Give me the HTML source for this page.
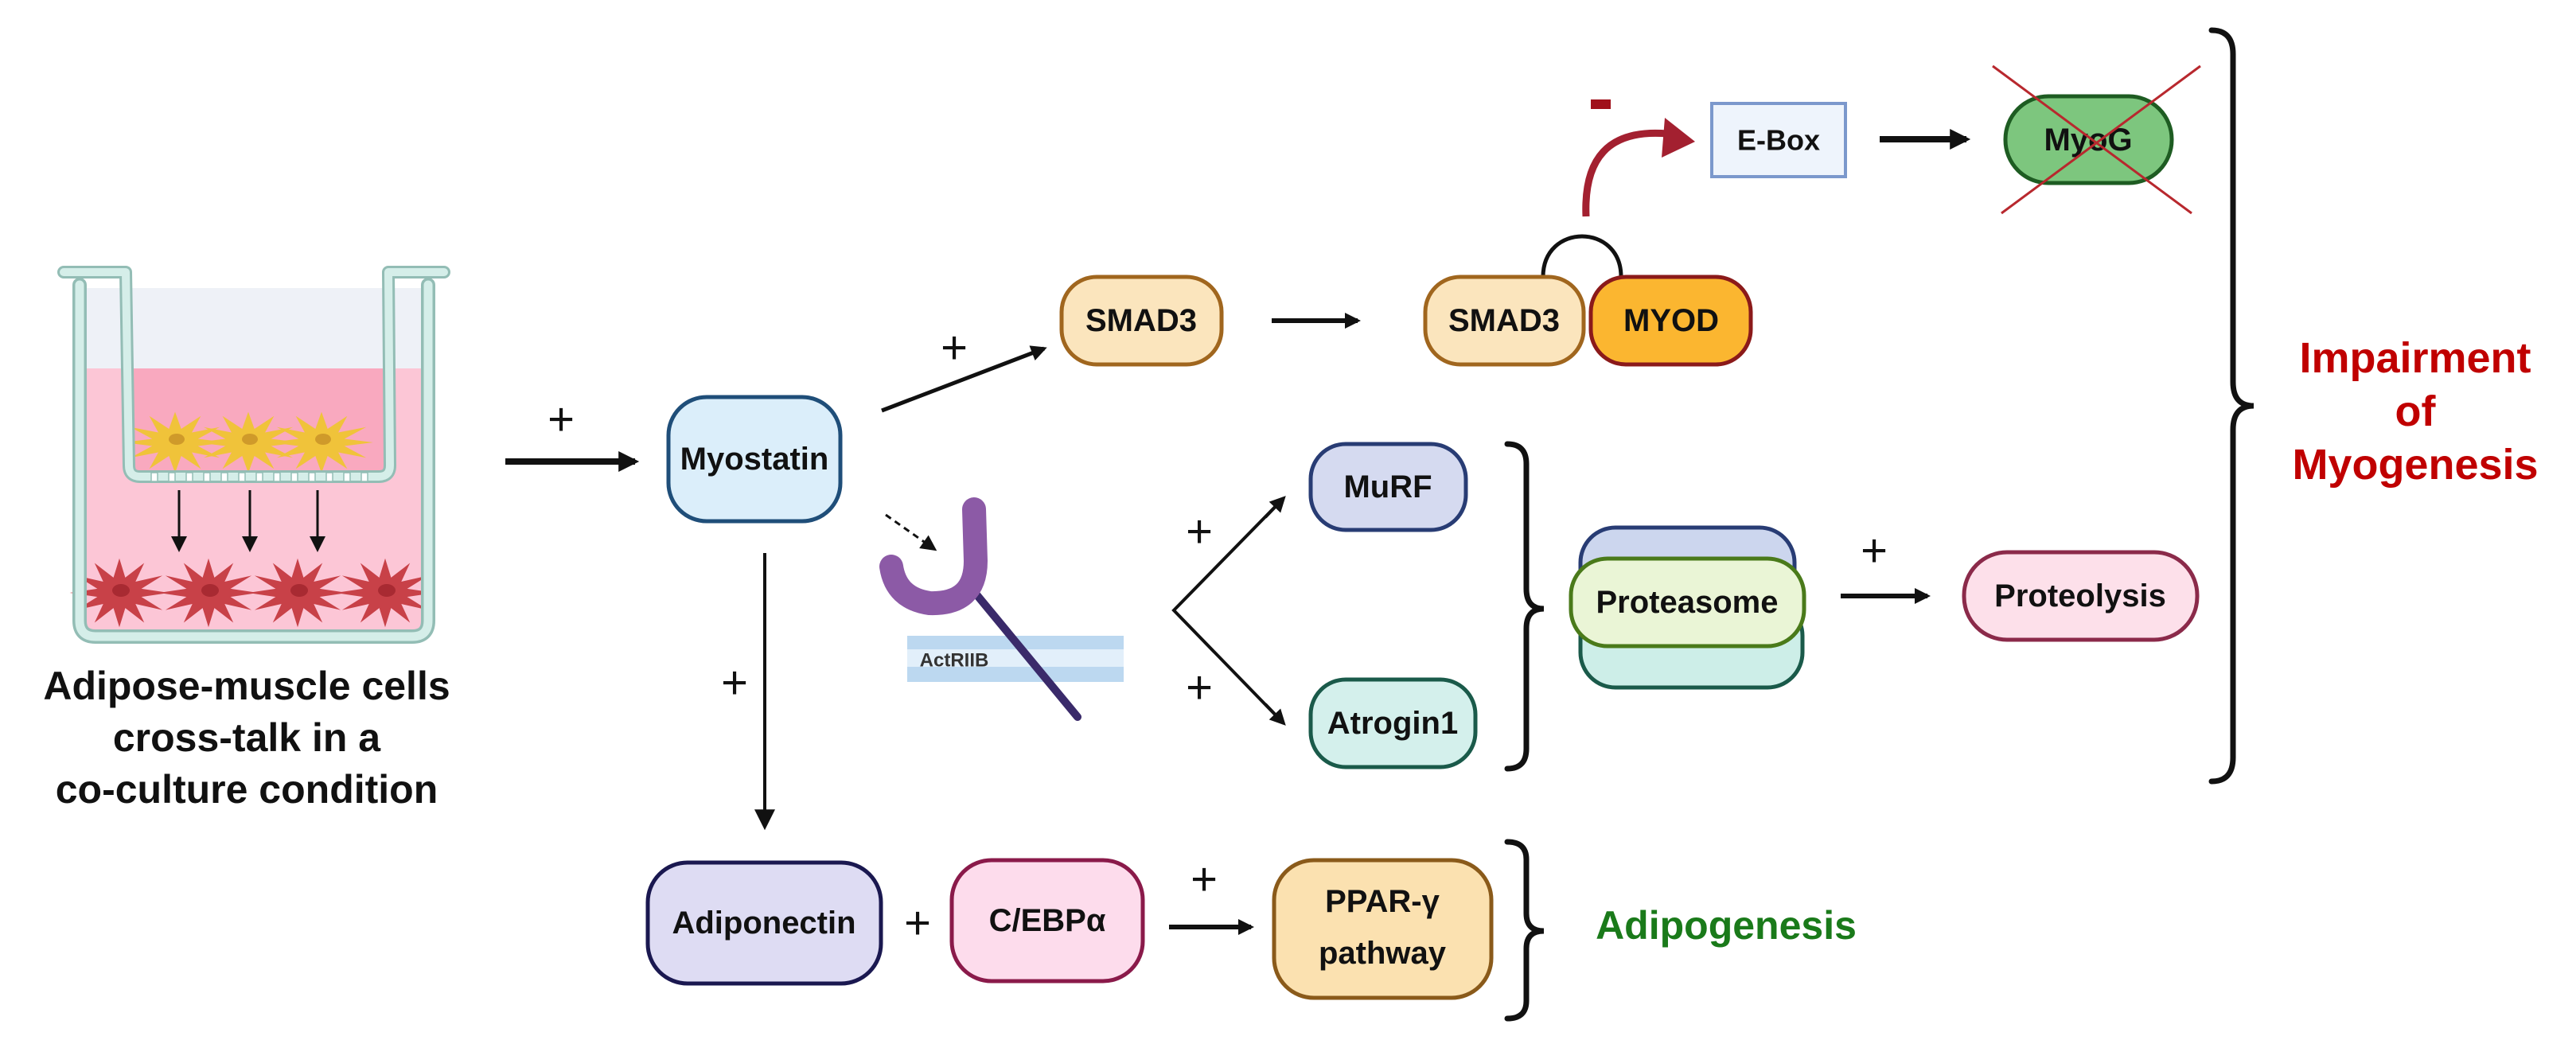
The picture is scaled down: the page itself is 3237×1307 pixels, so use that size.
<!DOCTYPE html>
<html><head><meta charset="utf-8"><style>
html,body{margin:0;padding:0;background:#fff;}
svg{display:block;}
.t{font-family:"Liberation Sans",sans-serif;font-weight:bold;font-size:40px;fill:#111;text-anchor:middle;dominant-baseline:central;}
.p{font-family:"Liberation Sans",sans-serif;font-size:58px;fill:#111;text-anchor:middle;dominant-baseline:central;}
</style></head><body>
<svg width="3237" height="1307" viewBox="0 0 3237 1307" xmlns="http://www.w3.org/2000/svg">
<defs>
<marker id="a" viewBox="0 0 10 10" refX="8" refY="5" markerWidth="30" markerHeight="26" markerUnits="userSpaceOnUse" orient="auto"><path d="M0,0 L10,5 L0,10 z" fill="#111"/></marker>
<marker id="as" viewBox="0 0 10 10" refX="8" refY="5" markerWidth="22" markerHeight="20" markerUnits="userSpaceOnUse" orient="auto"><path d="M0,0 L10,5 L0,10 z" fill="#111"/></marker>
<polygon id="star" points="48,0 21.3,5.7 41.6,24 15.6,15.6 24,41.6 5.7,21.3 0,48 -5.7,21.3 -24,41.6 -15.6,15.6 -41.6,24 -21.3,5.7 -48,0 -21.3,-5.7 -41.6,-24 -15.6,-15.6 -24,-41.6 -5.7,-21.3 0,-48 5.7,-21.3 24,-41.6 15.6,-15.6 41.6,-24 21.3,-5.7"/>
</defs>

<!-- Well -->
<rect x="100" y="362" width="438" height="101" fill="#eef1f7"/>
<path d="M100,463 L538,463 L538,780 Q538,800 518,800 L120,800 Q100,800 100,780 Z" fill="#fcc6d6"/>
<rect x="162" y="463" width="328" height="136" fill="#f9a9bf"/>
<g fill="#f0c33a"><use href="#star" transform="translate(220,556) scale(1.35,0.8)"/><use href="#star" transform="translate(312,556) scale(1.35,0.8)"/><use href="#star" transform="translate(404,556) scale(1.35,0.8)"/></g>
<g fill="#cf9a2a"><ellipse cx="222" cy="552" rx="10" ry="7"/><ellipse cx="314" cy="552" rx="10" ry="7"/><ellipse cx="406" cy="552" rx="10" ry="7"/></g>
<g fill="#c84148"><use href="#star" transform="translate(150,745) scale(1.3,0.9)"/><use href="#star" transform="translate(262,745) scale(1.3,0.9)"/><use href="#star" transform="translate(374,745) scale(1.3,0.9)"/><use href="#star" transform="translate(484,745) scale(1.3,0.9)"/></g>
<g fill="#a82a32"><ellipse cx="152" cy="742" rx="11" ry="8"/><ellipse cx="264" cy="742" rx="11" ry="8"/><ellipse cx="376" cy="742" rx="11" ry="8"/><ellipse cx="486" cy="742" rx="11" ry="8"/></g>
<g fill="none" stroke-linecap="round" stroke-linejoin="round">
<path d="M100,358 L100,780 Q100,800 120,800 L518,800 Q538,800 538,780 L538,358" stroke="#93bdb5" stroke-width="18"/>
<path d="M100,358 L100,780 Q100,800 120,800 L518,800 Q538,800 538,780 L538,358" stroke="#d5eee9" stroke-width="11"/>
<path d="M80,342 L158,342 L162,585 Q162,599 176,599 L476,599 Q490,599 490,585 L488,342 L558,342" stroke="#93bdb5" stroke-width="16"/>
<path d="M80,342 L158,342 L162,585 Q162,599 176,599 L476,599 Q490,599 490,585 L488,342 L558,342" stroke="#d5eee9" stroke-width="10"/>
</g>
<g fill="#fff" stroke="#93bdb5" stroke-width="1.5">
<rect x="190" y="594" width="8" height="11"/><rect x="212" y="594" width="8" height="11"/><rect x="234" y="594" width="8" height="11"/><rect x="256" y="594" width="8" height="11"/><rect x="278" y="594" width="8" height="11"/><rect x="300" y="594" width="8" height="11"/><rect x="322" y="594" width="8" height="11"/><rect x="344" y="594" width="8" height="11"/><rect x="366" y="594" width="8" height="11"/><rect x="388" y="594" width="8" height="11"/><rect x="410" y="594" width="8" height="11"/><rect x="432" y="594" width="8" height="11"/><rect x="454" y="594" width="8" height="11"/>
</g>
<g stroke="#111" stroke-width="3"><line x1="225" y1="616" x2="225" y2="690" marker-end="url(#as)"/><line x1="314" y1="616" x2="314" y2="690" marker-end="url(#as)"/><line x1="399" y1="616" x2="399" y2="690" marker-end="url(#as)"/></g>
<text class="t" x="310" y="862" style="font-size:50px">Adipose-muscle cells</text>
<text class="t" x="310" y="927" style="font-size:50px">cross-talk in a</text>
<text class="t" x="310" y="992" style="font-size:50px">co-culture condition</text>

<!-- Arrows -->
<g stroke="#111" fill="none">
<line x1="635" y1="580" x2="798" y2="580" stroke-width="8" marker-end="url(#a)"/>
<line x1="1108" y1="516" x2="1312" y2="438" stroke-width="5" marker-end="url(#as)"/>
<line x1="1598" y1="403" x2="1706" y2="403" stroke-width="6" marker-end="url(#as)"/>
<line x1="2362" y1="175" x2="2471" y2="175" stroke-width="8" marker-end="url(#a)"/>
<line x1="961" y1="695" x2="961" y2="1038" stroke-width="4" marker-end="url(#a)"/>
<line x1="1113" y1="647" x2="1174" y2="690" stroke-width="3" stroke-dasharray="8,6" marker-end="url(#as)"/>
<polyline points="1611,628 1475,767 1611,907" stroke-width="4"/>
<line x1="1590" y1="650" x2="1613" y2="626" stroke-width="4" marker-end="url(#as)"/>
<line x1="1590" y1="885" x2="1613" y2="909" stroke-width="4" marker-end="url(#as)"/>
<line x1="2313" y1="749" x2="2422" y2="749" stroke-width="6" marker-end="url(#as)"/>
<line x1="1469" y1="1165" x2="1572" y2="1165" stroke-width="6" marker-end="url(#as)"/>
<path d="M1939,348 C1939,280 2037,280 2037,348" stroke-width="5"/>
</g>
<text class="p" x="705" y="527">+</text><text class="p" x="923" y="858">+</text><text class="p" x="1199" y="437">+</text>
<text class="p" x="1507" y="668">+</text><text class="p" x="1507" y="864">+</text><text class="p" x="2355" y="692">+</text>
<text class="p" x="1153" y="1160">+</text><text class="p" x="1513" y="1105">+</text>

<!-- Red inhibition arrow -->
<rect x="1999" y="125" width="25" height="12" fill="#a0101a"/>
<path d="M1993,272 C1990,200 2020,162 2095,168" stroke="#a32030" stroke-width="9" fill="none"/>
<polygon points="2130,178 2092,148 2088,198" fill="#a32030"/>

<!-- Nodes -->
<g stroke-width="5">
<rect x="840" y="499" width="216" height="156" rx="48" fill="#dbeefa" stroke="#1f4e79"/>
<rect x="1334" y="348" width="201" height="110" rx="44" fill="#fbe5bd" stroke="#a0661e"/>
<rect x="1791" y="348" width="199" height="110" rx="44" fill="#fbe5bd" stroke="#a0661e"/>
<rect x="1999" y="348" width="201" height="110" rx="44" fill="#fbb630" stroke="#8b1a1a"/>
<rect x="2151" y="130" width="168" height="92" fill="#eef4fc" stroke="#7b98cc" stroke-width="4"/>
<rect x="2520" y="121" width="209" height="109" rx="54" fill="#7dc67e" stroke="#1e5c22"/>
<rect x="1647" y="558" width="195" height="108" rx="44" fill="#d5daf0" stroke="#283c74"/>
<rect x="1647" y="854" width="207" height="110" rx="44" fill="#d4f0ec" stroke="#1a5a4a"/>
<rect x="1986" y="755" width="279" height="109" rx="44" fill="#cdeee8" stroke="#1a5a4a"/>
<rect x="1986" y="663" width="269" height="100" rx="44" fill="#ccd6ee" stroke="#283c74"/>
<rect x="1974" y="702" width="293" height="110" rx="46" fill="#eaf5d6" stroke="#4a7a1a"/>
<rect x="2468" y="694" width="293" height="110" rx="54" fill="#fde0ea" stroke="#8b2a4a"/>
<rect x="814" y="1084" width="293" height="152" rx="50" fill="#dedcf3" stroke="#1a1850"/>
<rect x="1196" y="1081" width="240" height="152" rx="50" fill="#fddcec" stroke="#8a1a4a"/>
<rect x="1601" y="1081" width="273" height="173" rx="50" fill="#fbe1b0" stroke="#8a5a1a"/>
</g>
<text class="t" x="948" y="577">Myostatin</text>
<text class="t" x="1434" y="403">SMAD3</text>
<text class="t" x="1890" y="403">SMAD3</text>
<text class="t" x="2100" y="403">MYOD</text>
<text class="t" x="2235" y="176" style="font-size:36px">E-Box</text>
<text class="t" x="2624" y="176">MyoG</text>
<text class="t" x="1744" y="612">MuRF</text>
<text class="t" x="1750" y="909">Atrogin1</text>
<text class="t" x="2120" y="757">Proteasome</text>
<text class="t" x="2614" y="749">Proteolysis</text>
<text class="t" x="960" y="1160">Adiponectin</text>
<text class="t" x="1316" y="1157">C/EBPα</text>
<text class="t" x="1737" y="1133">PPAR-γ</text>
<text class="t" x="1737" y="1198">pathway</text>

<!-- Red X -->
<g stroke="#b8282e" stroke-width="3"><line x1="2504" y1="83" x2="2754" y2="268"/><line x1="2515" y1="268" x2="2765" y2="83"/></g>

<!-- Receptor -->
<rect x="1140" y="799" width="272" height="58" fill="#bcd8f0"/>
<rect x="1140" y="816" width="272" height="22" fill="#e2effa"/>
<text x="1199" y="830" font-family="Liberation Sans,sans-serif" font-weight="bold" font-size="24" fill="#333" text-anchor="middle" dominant-baseline="central">ActRIIB</text>
<line x1="1222" y1="741" x2="1354" y2="901" stroke="#3a2a6a" stroke-width="10" stroke-linecap="round"/>
<path d="M1224,640 L1226,705 Q1226,760 1168,758 Q1126,752 1120,712" stroke="#8c5aa6" stroke-width="30" fill="none" stroke-linecap="round"/>

<!-- Braces -->
<g fill="none" stroke="#111" stroke-width="7" stroke-linecap="round">
<path d="M2779,38 Q2806,38 2806,68 L2806,480 Q2806,510 2832,510 Q2806,510 2806,540 L2806,952 Q2806,982 2779,982"/>
<path d="M1894,558 Q1918,558 1918,583 L1918,740 Q1918,765 1940,765 Q1918,765 1918,790 L1918,941 Q1918,966 1894,966"/>
<path d="M1894,1058 Q1918,1058 1918,1080 L1918,1148 Q1918,1170 1940,1170 Q1918,1170 1918,1192 L1918,1258 Q1918,1280 1894,1280"/>
</g>
<g font-family="Liberation Sans,sans-serif" font-weight="bold" text-anchor="middle" dominant-baseline="central">
<text x="3035" y="450" font-size="54" fill="#c00000">Impairment</text>
<text x="3035" y="517" font-size="54" fill="#c00000">of</text>
<text x="3035" y="584" font-size="54" fill="#c00000">Myogenesis</text>
<text x="2169" y="1163" font-size="50" fill="#1a7a1a">Adipogenesis</text>
</g>
</svg>
</body></html>
